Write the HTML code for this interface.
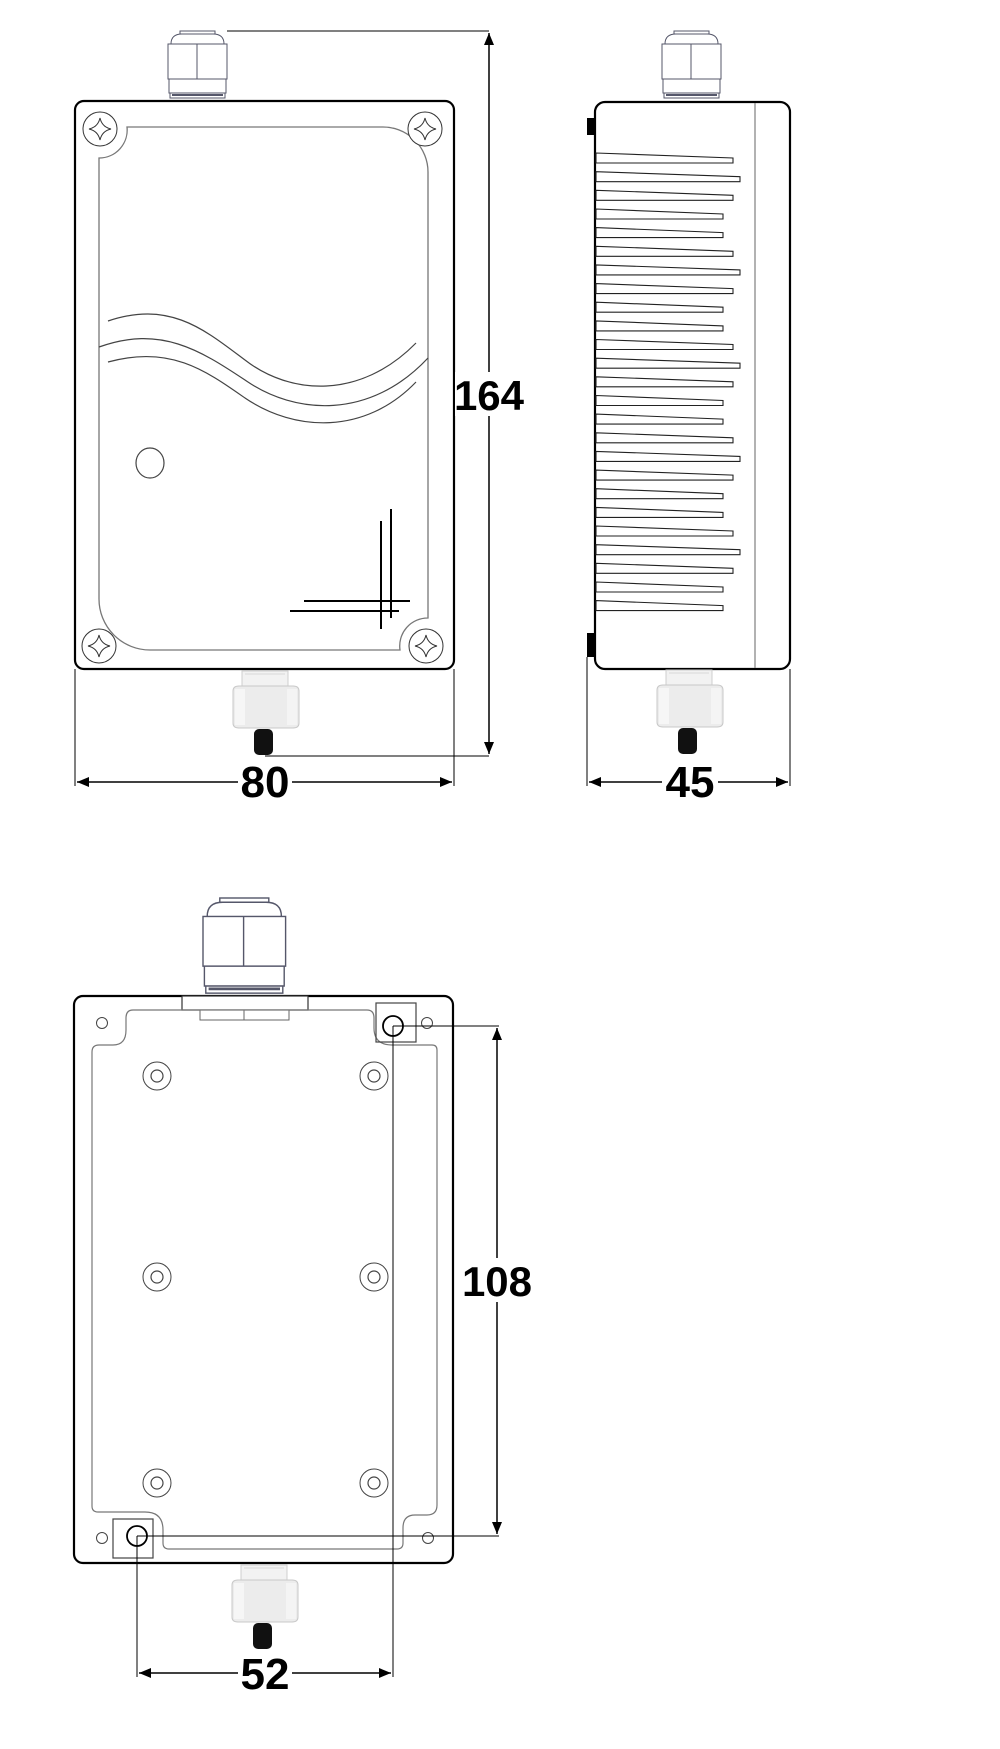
<!DOCTYPE html>
<html><head><meta charset="utf-8"><style>
html,body{margin:0;padding:0;background:#fff}
svg{display:block}
text{font-family:"Liberation Sans",sans-serif;font-weight:bold;fill:#000}
</style></head><body>
<svg width="1000" height="1749" viewBox="0 0 1000 1749" xmlns="http://www.w3.org/2000/svg">
<defs>
<marker id="ar" viewBox="0 0 12 10" refX="12" refY="5" markerWidth="12" markerHeight="10" markerUnits="userSpaceOnUse" orient="auto-start-reverse"><path d="M0,0 L12,5 L0,10 Z" fill="#000"/></marker>
<g id="gland">
<rect x="12" y="0" width="35" height="3" fill="none" stroke="#55576a" stroke-width="1"/>
<path d="M3,13 Q3,3 14,3 H45 Q56,3 56,13" fill="#fff" stroke="#55576a" stroke-width="1"/>
<rect x="0" y="13" width="59" height="35" fill="#fff" stroke="#55576a" stroke-width="1"/>
<line x1="29" y1="13" x2="29" y2="67" stroke="#55576a" stroke-width="1"/>
<rect x="1" y="48" width="57" height="14" fill="#fff" stroke="#55576a" stroke-width="1"/>
<rect x="2" y="62" width="55" height="5" fill="#fff" stroke="#55576a" stroke-width="1"/>
<line x1="4" y1="64" x2="55" y2="64" stroke="#55576a" stroke-width="2"/>
</g>
<g id="fit">
<rect x="11" y="0" width="46" height="17" fill="#f2f2f2" stroke="#cfcfcf" stroke-width="1"/>
<line x1="14" y1="3" x2="54" y2="3" stroke="#d8d8d8"/>
<path d="M2,20 Q2,15 8,15 H62 Q68,15 68,20 V52 Q68,57 62,57 H8 Q2,57 2,52 Z" fill="#ececec" stroke="#c8c8c8"/>
<rect x="4" y="18" width="10" height="36" fill="#f6f6f6"/>
<rect x="56" y="18" width="10" height="36" fill="#f4f4f4"/>
<rect x="23" y="58" width="19" height="26" rx="5" fill="#111"/>
</g>
<g id="screw">
<circle cx="0" cy="0" r="17" fill="#fff" stroke="#333" stroke-width="1"/>
<path d="M0,-11 Q2,-2 11,0 Q2,2 0,11 Q-2,2 -11,0 Q-2,-2 0,-11 Z" fill="none" stroke="#333" stroke-width="1"/>
</g>
<g id="stand">
<circle cx="0" cy="0" r="14" fill="none" stroke="#444" stroke-width="1"/>
<circle cx="0" cy="0" r="6" fill="none" stroke="#444" stroke-width="1.2"/>
</g>
</defs>

<!-- FRONT VIEW -->
<use href="#gland" x="168" y="31"/>
<line x1="227" y1="31" x2="489" y2="31" stroke="#000" stroke-width="1"/>
<rect x="75" y="101" width="379" height="568" rx="9" fill="#fff" stroke="#000" stroke-width="2.2"/>
<path d="M127,127 H382 A45,45 0 0 1 428,172 V618 A28,28 0 0 0 400,650 H150 A51,51 0 0 1 99,599 V158 A28,28 0 0 0 127,127 Z" fill="none" stroke="#777" stroke-width="1.3"/>
<use href="#screw" x="100" y="129"/>
<use href="#screw" x="425" y="129"/>
<use href="#screw" x="99" y="646"/>
<use href="#screw" x="426" y="646"/>
<path d="M108,321 C170,300 205,330 245,360 C290,395 360,400 416,343" fill="none" stroke="#444" stroke-width="1.2"/>
<path d="M99,347 C160,325 200,350 245,380 C295,415 370,420 428,358" fill="none" stroke="#444" stroke-width="1.2"/>
<path d="M108,362 C170,345 205,370 245,398 C295,432 365,435 416,382" fill="none" stroke="#444" stroke-width="1.2"/>
<ellipse cx="150" cy="463" rx="14" ry="15" fill="none" stroke="#444" stroke-width="1.2"/>
<line x1="381" y1="521" x2="381" y2="629" stroke="#000" stroke-width="2"/>
<line x1="391" y1="509" x2="391" y2="618" stroke="#000" stroke-width="2"/>
<line x1="304" y1="601" x2="410" y2="601" stroke="#000" stroke-width="2"/>
<line x1="290" y1="611" x2="399" y2="611" stroke="#000" stroke-width="2"/>
<use href="#fit" x="231" y="671"/>
<line x1="265" y1="756" x2="489" y2="756" stroke="#000" stroke-width="1"/>
<line x1="489" y1="33" x2="489" y2="754" stroke="#000" stroke-width="1.5" marker-start="url(#ar)" marker-end="url(#ar)"/>
<rect x="455" y="372" width="68" height="44" fill="#fff"/>
<text x="489" y="410" font-size="42" text-anchor="middle">164</text>
<line x1="75" y1="669" x2="75" y2="786" stroke="#000" stroke-width="1"/>
<line x1="454" y1="669" x2="454" y2="786" stroke="#000" stroke-width="1"/>
<line x1="77" y1="782" x2="452" y2="782" stroke="#000" stroke-width="1.5" marker-start="url(#ar)" marker-end="url(#ar)"/>
<rect x="238" y="760" width="54" height="46" fill="#fff"/>
<text x="265" y="797" font-size="44" text-anchor="middle">80</text>

<!-- SIDE VIEW -->
<use href="#gland" x="662" y="31"/>
<rect x="587" y="118" width="9" height="17" fill="#000"/>
<rect x="587" y="633" width="9" height="24" fill="#000"/>
<rect x="595" y="102" width="195" height="567" rx="10" fill="#fff" stroke="#000" stroke-width="2.2"/>
<line x1="755" y1="103" x2="755" y2="668" stroke="#888" stroke-width="1.3"/>
<g fill="#fff" stroke="#222" stroke-width="1.1">
<polygon points="596,153 733,158 733,163 596,163"/>
<polygon points="596,171.7 740,176.7 740,181.7 596,181.7"/>
<polygon points="596,190.3 733,195.3 733,200.3 596,200.3"/>
<polygon points="596,209 723,214 723,219 596,219"/>
<polygon points="596,227.6 723,232.6 723,237.6 596,237.6"/>
<polygon points="596,246.3 733,251.3 733,256.3 596,256.3"/>
<polygon points="596,264.9 740,269.9 740,274.9 596,274.9"/>
<polygon points="596,283.6 733,288.6 733,293.6 596,293.6"/>
<polygon points="596,302.2 723,307.2 723,312.2 596,312.2"/>
<polygon points="596,320.9 723,325.9 723,330.9 596,330.9"/>
<polygon points="596,339.5 733,344.5 733,349.5 596,349.5"/>
<polygon points="596,358.2 740,363.2 740,368.2 596,368.2"/>
<polygon points="596,376.8 733,381.8 733,386.8 596,386.8"/>
<polygon points="596,395.5 723,400.5 723,405.5 596,405.5"/>
<polygon points="596,414.1 723,419.1 723,424.1 596,424.1"/>
<polygon points="596,432.8 733,437.8 733,442.8 596,442.8"/>
<polygon points="596,451.4 740,456.4 740,461.4 596,461.4"/>
<polygon points="596,470.1 733,475.1 733,480.1 596,480.1"/>
<polygon points="596,488.7 723,493.7 723,498.7 596,498.7"/>
<polygon points="596,507.4 723,512.4 723,517.4 596,517.4"/>
<polygon points="596,526 733,531 733,536 596,536"/>
<polygon points="596,544.7 740,549.7 740,554.7 596,554.7"/>
<polygon points="596,563.3 733,568.3 733,573.3 596,573.3"/>
<polygon points="596,582 723,587 723,592 596,592"/>
<polygon points="596,600.6 723,605.6 723,610.6 596,610.6"/>
</g>
<use href="#fit" x="655" y="670"/>
<line x1="587" y1="657" x2="587" y2="786" stroke="#000" stroke-width="1"/>
<line x1="790" y1="669" x2="790" y2="786" stroke="#000" stroke-width="1"/>
<line x1="589" y1="782" x2="788" y2="782" stroke="#000" stroke-width="1.5" marker-start="url(#ar)" marker-end="url(#ar)"/>
<rect x="662" y="760" width="56" height="46" fill="#fff"/>
<text x="690" y="797" font-size="44" text-anchor="middle">45</text>

<!-- BOTTOM VIEW -->
<g transform="translate(203,898) scale(1.4,1.42)"><use href="#gland"/></g>
<rect x="74" y="996" width="379" height="567" rx="9" fill="#fff" stroke="#000" stroke-width="2.2"/>
<rect x="182" y="996" width="126" height="14" fill="#fff" stroke="#333" stroke-width="1.2"/>
<rect x="200" y="1010" width="89" height="10" fill="#fff" stroke="#666" stroke-width="1"/>
<line x1="244" y1="1010" x2="244" y2="1020" stroke="#666" stroke-width="1"/>
<path d="M133,1010 H367 Q374,1010 374,1018 V1028 Q374,1045 392,1045 H432 Q437,1045 437,1050 V1505 Q437,1515 427,1515 H415 Q403,1515 403,1528 V1543 Q403,1549 397,1549 H169 Q163,1549 163,1543 V1530 Q163,1512 145,1512 H98 Q92,1512 92,1506 V1052 Q92,1045 99,1045 H113 Q126,1045 126,1030 V1018 Q126,1010 133,1010 Z" fill="none" stroke="#777" stroke-width="1.2"/>
<circle cx="102" cy="1023" r="5.5" fill="none" stroke="#444" stroke-width="1"/>
<circle cx="427" cy="1023" r="5.5" fill="none" stroke="#444" stroke-width="1"/>
<circle cx="102" cy="1538" r="5.5" fill="none" stroke="#444" stroke-width="1"/>
<circle cx="428" cy="1538" r="5.5" fill="none" stroke="#444" stroke-width="1"/>
<rect x="376" y="1003" width="40" height="39" fill="none" stroke="#444" stroke-width="1.2"/>
<circle cx="393" cy="1026" r="10" fill="none" stroke="#000" stroke-width="1.8"/>
<rect x="113" y="1519" width="40" height="39" fill="none" stroke="#444" stroke-width="1.2"/>
<circle cx="137" cy="1536" r="10" fill="none" stroke="#000" stroke-width="1.8"/>
<use href="#stand" x="157" y="1076"/>
<use href="#stand" x="374" y="1076"/>
<use href="#stand" x="157" y="1277"/>
<use href="#stand" x="374" y="1277"/>
<use href="#stand" x="157" y="1483"/>
<use href="#stand" x="374" y="1483"/>
<line x1="393" y1="1026" x2="499" y2="1026" stroke="#000" stroke-width="1"/>
<line x1="137" y1="1536" x2="499" y2="1536" stroke="#000" stroke-width="1"/>
<line x1="393" y1="1026" x2="393" y2="1677" stroke="#000" stroke-width="1"/>
<line x1="137" y1="1536" x2="137" y2="1677" stroke="#000" stroke-width="1"/>
<line x1="497" y1="1028" x2="497" y2="1534" stroke="#000" stroke-width="1.5" marker-start="url(#ar)" marker-end="url(#ar)"/>
<rect x="462" y="1258" width="72" height="44" fill="#fff"/>
<text x="497" y="1296" font-size="42" text-anchor="middle">108</text>
<use href="#fit" x="230" y="1565"/>
<line x1="139" y1="1673" x2="391" y2="1673" stroke="#000" stroke-width="1.5" marker-start="url(#ar)" marker-end="url(#ar)"/>
<rect x="238" y="1652" width="54" height="46" fill="#fff"/>
<text x="265" y="1689" font-size="44" text-anchor="middle">52</text>
</svg>
</body></html>
